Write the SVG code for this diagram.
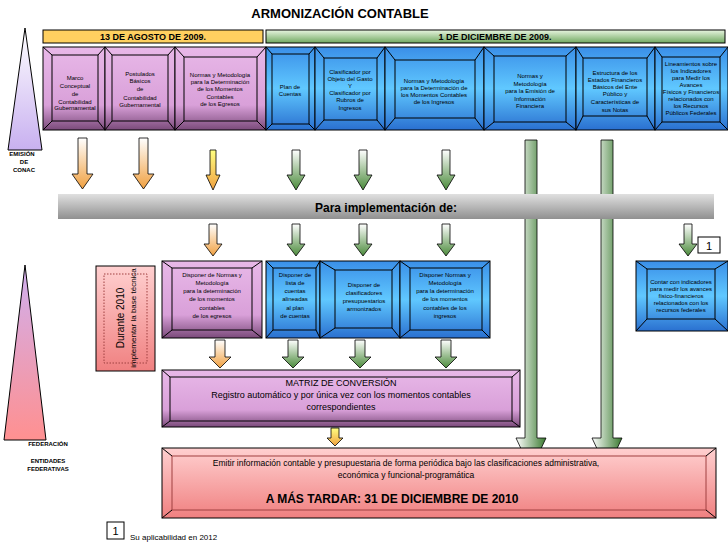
<svg xmlns="http://www.w3.org/2000/svg" width="728" height="546" viewBox="0 0 728 546">
<style>
text{font-family:"Liberation Sans",Arial,sans-serif;fill:#000}
.s{font-size:6px;text-anchor:middle}
.m{font-size:7px;text-anchor:middle}
.ln{stroke:#000;stroke-width:1;fill:none}
.ar{stroke:#000;stroke-width:0.8}
</style>
<defs>
<linearGradient id="pur" x1="0" y1="0" x2="0" y2="1"><stop offset="0" stop-color="#e8b8e8"/><stop offset="0.7" stop-color="#d9a0d9"/><stop offset="1" stop-color="#7a4a7a"/></linearGradient>
<linearGradient id="blu" x1="0" y1="0" x2="0" y2="1"><stop offset="0" stop-color="#3a8fe8"/><stop offset="0.5" stop-color="#60c8ff"/><stop offset="1" stop-color="#2a70d0"/></linearGradient>
<linearGradient id="red" x1="0" y1="0" x2="0" y2="1"><stop offset="0" stop-color="#ffd0d0"/><stop offset="1" stop-color="#f08080"/></linearGradient>
<linearGradient id="tri" x1="0" y1="0" x2="0" y2="1"><stop offset="0" stop-color="#ffffff"/><stop offset="1" stop-color="#c8b0f0"/></linearGradient>
<linearGradient id="tri2" x1="0" y1="0" x2="0" y2="1"><stop offset="0" stop-color="#d0b0f0"/><stop offset="1" stop-color="#ff9090"/></linearGradient>
<linearGradient id="grn" x1="0" y1="0" x2="0" y2="1"><stop offset="0" stop-color="#ffffff"/><stop offset="1" stop-color="#4a8a3a"/></linearGradient>
<linearGradient id="org" x1="0" y1="0" x2="0" y2="1"><stop offset="0" stop-color="#ffffff"/><stop offset="1" stop-color="#f0a040"/></linearGradient>
<linearGradient id="ylw" x1="0" y1="0" x2="0" y2="1"><stop offset="0" stop-color="#ffff80"/><stop offset="1" stop-color="#f0a040"/></linearGradient>
<linearGradient id="gbar" x1="0" y1="0" x2="0" y2="1"><stop offset="0" stop-color="#e8f5e0"/><stop offset="1" stop-color="#70a860"/></linearGradient>
<linearGradient id="gray" x1="0" y1="0" x2="0" y2="1"><stop offset="0" stop-color="#e0e0e0"/><stop offset="1" stop-color="#909090"/></linearGradient>
<linearGradient id="lg" x1="0" y1="0" x2="1" y2="0"><stop offset="0" stop-color="#ffffff"/><stop offset="1" stop-color="#3a7a30"/></linearGradient>
</defs>

<text x="340" y="18" font-size="13" font-weight="bold" text-anchor="middle">ARMONIZACIÓN CONTABLE</text>

<g id="triangles">
<polygon points="25,28 42,150 8,150" fill="url(#tri)" stroke="#000"/>
<text x="22" y="156" font-size="6" font-weight="bold" text-anchor="middle">EMISIÓN</text>
<text x="24" y="164" font-size="6" font-weight="bold" text-anchor="middle">DE</text>
<text x="24" y="172" font-size="6" font-weight="bold" text-anchor="middle">CONAC</text>
<polygon points="25,265 46,440 4,440" fill="url(#tri2)" stroke="#000"/>
<text x="48" y="446" font-size="6" font-weight="bold" text-anchor="middle">FEDERACIÓN</text>
<text x="48" y="463" font-size="6" font-weight="bold" text-anchor="middle">ENTIDADES</text>
<text x="48" y="471" font-size="6" font-weight="bold" text-anchor="middle">FEDERATIVAS</text>
</g>

<g id="dates">
<rect x="43" y="30" width="220" height="13" fill="#ffd060" stroke="#000"/>
<text x="153" y="40" font-size="9" font-weight="bold" text-anchor="middle">13 DE AGOSTO DE 2009.</text>
<rect x="266" y="30" width="459" height="13" fill="url(#gbar)" stroke="#000"/>
<text x="495" y="40" font-size="9" font-weight="bold" text-anchor="middle">1 DE DICIEMBRE  DE 2009.</text>
</g>

<g id="top-boxes">
<g id="t1"><rect x="43" y="47" width="62" height="83" fill="url(#pur)" stroke="#000"/><rect x="52" y="55" width="46" height="66" class="ln"/><path d="M43,47L52,55M105,47L98,55M43,130L52,121M105,130L98,121" class="ln"/>
<text class="s" x="75" y="80">Marco</text><text class="s" x="75" y="88">Conceptual</text><text class="s" x="75" y="96">de</text><text class="s" x="75" y="104">Contabilidad</text><text class="s" x="75" y="110">Gubernamental</text></g>
<g id="t2"><rect x="105" y="47" width="70" height="83" fill="url(#pur)" stroke="#000"/><rect x="112" y="55" width="56" height="66" class="ln"/><path d="M105,47L112,55M175,47L168,55M105,130L112,121M175,130L168,121" class="ln"/>
<text class="s" x="140" y="76">Postulados</text><text class="s" x="140" y="83">Básicos</text><text class="s" x="140" y="91">de</text><text class="s" x="140" y="100">Contabilidad</text><text class="s" x="140" y="107">Gubernamental</text></g>
<g id="t3"><rect x="175" y="47" width="91" height="83" fill="url(#pur)" stroke="#000"/><rect x="184" y="57" width="73" height="64" class="ln"/><path d="M175,47L184,57M266,47L257,57M175,130L184,121M266,130L257,121" class="ln"/>
<text class="s" x="220" y="77">Normas y Metodología</text><text class="s" x="220" y="84">para la Determinación</text><text class="s" x="220" y="91">de los Momentos</text><text class="s" x="220" y="99">Contables</text><text class="s" x="220" y="106">de los Egresos</text></g>
<g id="t4"><rect x="266" y="47" width="49" height="83" fill="url(#blu)" stroke="#000"/><rect x="272" y="54" width="37" height="70" class="ln"/><path d="M266,47L272,54M315,47L309,54M266,130L272,124M315,130L309,124" class="ln"/>
<text class="s" x="290" y="89">Plan de</text><text class="s" x="290" y="96">Cuentas</text></g>
<g id="t5"><rect x="315" y="47" width="70" height="83" fill="url(#blu)" stroke="#000"/><rect x="324" y="58" width="53" height="62" class="ln"/><path d="M315,47L324,58M385,47L377,58M315,130L324,120M385,130L377,120" class="ln"/>
<text class="s" x="350" y="74">Clasificador por</text><text class="s" x="350" y="81">Objeto del Gasto</text><text class="s" x="350" y="88">Y</text><text class="s" x="350" y="95">Clasificador por</text><text class="s" x="350" y="102">Rubros de</text><text class="s" x="350" y="110">Ingresos</text></g>
<g id="t6"><rect x="385" y="47" width="99" height="83" fill="url(#blu)" stroke="#000"/><rect x="395" y="60" width="80" height="58" class="ln"/><path d="M385,47L395,60M484,47L475,60M385,130L395,118M484,130L475,118" class="ln"/>
<text class="s" x="434" y="83">Normas y Metodología</text><text class="s" x="434" y="90">para la Determinación de</text><text class="s" x="434" y="97">los Momentos Contables</text><text class="s" x="434" y="104">de los Ingresos</text></g>
<g id="t7"><rect x="484" y="47" width="92" height="83" fill="url(#blu)" stroke="#000"/><rect x="494" y="56" width="72" height="66" class="ln"/><path d="M484,47L494,56M576,47L566,56M484,130L494,122M576,130L566,122" class="ln"/>
<text class="s" x="530" y="78">Normas  y</text><text class="s" x="530" y="86">Metodología</text><text class="s" x="530" y="93">para la Emisión de</text><text class="s" x="530" y="101">Información</text><text class="s" x="530" y="108">Financiera</text></g>
<g id="t8"><rect x="576" y="47" width="79" height="83" fill="url(#blu)" stroke="#000"/><rect x="583" y="58" width="64" height="58" class="ln"/><path d="M576,47L583,58M655,47L647,58M576,130L583,116M655,130L647,116" class="ln"/>
<text class="s" x="615" y="75">Estructura de  los</text><text class="s" x="615" y="82">Estados  Financieros</text><text class="s" x="615" y="89">Básicos del Ente</text><text class="s" x="615" y="96">Público y</text><text class="s" x="615" y="104">Características de</text><text class="s" x="615" y="112">sus Notas</text></g>
<g id="t9"><rect x="655" y="47" width="73" height="83" fill="url(#blu)" stroke="#000"/><rect x="662" y="57" width="58" height="65" class="ln"/><path d="M655,47L662,57M728,47L720,57M655,130L662,122M728,130L720,122" class="ln"/>
<g font-size="5.5"><text class="s" x="691" y="66">Lineamientos sobre</text><text class="s" x="691" y="73">los Indicadores</text><text class="s" x="691" y="80">para Medir los</text><text class="s" x="691" y="87">Avances</text><text class="s" x="691" y="94">Físicos y Financieros</text><text class="s" x="691" y="101">relacionados con</text><text class="s" x="691" y="108">los Recursos</text><text class="s" x="691" y="115">Públicos Federales</text></g></g>
</g>

<g id="connectors">
<path d="M78,138h9v36h6l-10.5,15l-10.5,-15h6z" fill="url(#org)" class="ar"/>
<path d="M139,138h9v36h6l-10.5,15l-10.5,-15h6z" fill="url(#org)" class="ar"/>
<path d="M210,150h6v25h4l-7,15l-7,-15h4z" fill="url(#ylw)" class="ar"/>
<path d="M292,150h8v25h5l-9,15l-9,-15h5z" fill="url(#grn)" class="ar"/>
<path d="M359,150h8v25h5l-9,15l-9,-15h5z" fill="url(#grn)" class="ar"/>
<path d="M442,150h8v25h5l-9,15l-9,-15h5z" fill="url(#grn)" class="ar"/>
<path d="M525,140h12v298h9l-15,32l-15,-32h9z" fill="url(#lg)" class="ar"/>
<path d="M601,140h12v298h9l-15,32l-15,-32h9z" fill="url(#lg)" class="ar"/>
<path d="M209,224h8v20h5l-9,12l-9,-12h5z" fill="url(#org)" class="ar"/>
<path d="M292,224h8v20h5l-9,12l-9,-12h5z" fill="url(#grn)" class="ar"/>
<path d="M359,224h8v20h5l-9,12l-9,-12h5z" fill="url(#grn)" class="ar"/>
<path d="M442,224h8v20h5l-9,12l-9,-12h5z" fill="url(#grn)" class="ar"/>
<path d="M684,224h8v20h5l-9,12l-9,-12h5z" fill="url(#grn)" class="ar"/>
<path d="M215,340h10v17h6l-11,11l-11,-11h6z" fill="url(#org)" class="ar"/>
<path d="M288,340h10v17h6l-11,11l-11,-11h6z" fill="url(#grn)" class="ar"/>
<path d="M355,340h10v17h6l-11,11l-11,-11h6z" fill="url(#grn)" class="ar"/>
<path d="M441,340h10v17h6l-11,11l-11,-11h6z" fill="url(#grn)" class="ar"/>
<path d="M331,428h8v10h4l-8,8l-8,-8h4z" fill="url(#ylw)" class="ar"/>
</g>

<g id="impl-bar">
<rect x="58" y="194" width="656" height="25" fill="url(#gray)"/>
<text x="386" y="212" font-size="12" font-weight="bold" text-anchor="middle">Para implementación de:</text>
</g>

<g id="note1"><rect x="698" y="237" width="22" height="16" fill="#fff" stroke="#000"/><text x="709" y="250" font-size="11" text-anchor="middle">1</text></g>

<g id="red-box">
<rect x="96" y="266" width="59" height="105" fill="url(#red)" stroke="#000"/>
<rect x="104" y="274" width="43" height="89" fill="none" stroke="#a04040" stroke-dasharray="1.5,1.5"/>
<text transform="translate(124,318) rotate(-90)" font-size="10" text-anchor="middle">Durante 2010</text>
<text transform="translate(136,318) rotate(-90)" font-size="8" text-anchor="middle">implementar la base técnica</text>
</g>

<g id="mid-boxes">
<g id="m1"><rect x="162" y="261" width="100" height="77" fill="url(#pur)" stroke="#000"/><rect x="172" y="268" width="80" height="62" class="ln"/><path d="M162,261L172,268M262,261L252,268M162,338L172,330M262,338L252,330" class="ln"/>
<text class="s" x="212" y="277">Disponer de Normas y</text><text class="s" x="212" y="285">Metodología</text><text class="s" x="212" y="293">para la determinación</text><text class="s" x="212" y="301">de los momentos</text><text class="s" x="212" y="310">contables</text><text class="s" x="212" y="318">de los egresos</text></g>
<g id="m2"><rect x="266" y="261" width="54" height="77" fill="url(#blu)" stroke="#000"/><rect x="273" y="268" width="43" height="62" class="ln"/><path d="M266,261L273,268M320,261L316,268M266,338L273,330M320,338L316,330" class="ln"/>
<text class="s" x="295" y="277">Disponer de</text><text class="s" x="295" y="285">lista de</text><text class="s" x="295" y="293">cuentas</text><text class="s" x="295" y="301">alineadas</text><text class="s" x="295" y="310">al plan</text><text class="s" x="295" y="318">de cuentas</text></g>
<g id="m3"><rect x="320" y="261" width="80" height="77" fill="url(#blu)" stroke="#000"/><rect x="335" y="270" width="57" height="58" class="ln"/><path d="M320,261L335,270M400,261L392,270M320,338L335,328M400,338L392,328" class="ln"/>
<text class="s" x="364" y="287">Disponer de</text><text class="s" x="364" y="295">clasificadores</text><text class="s" x="364" y="303">presupuestarios</text><text class="s" x="364" y="311">armonizados</text></g>
<g id="m4"><rect x="400" y="261" width="90" height="77" fill="url(#blu)" stroke="#000"/><rect x="410" y="268" width="72" height="62" class="ln"/><path d="M400,261L410,268M490,261L482,268M400,338L410,330M490,338L482,330" class="ln"/>
<text class="s" x="445" y="277">Disponer Normas y</text><text class="s" x="445" y="285">Metodología</text><text class="s" x="445" y="293">para la determinación</text><text class="s" x="445" y="301">de los momentos</text><text class="s" x="445" y="310">contables de los</text><text class="s" x="445" y="318">ingresos</text></g>
<g id="m5"><rect x="636" y="261" width="92" height="70" fill="url(#blu)" stroke="#000"/><rect x="647" y="269" width="68" height="50" class="ln"/><path d="M636,261L647,269M728,261L715,269M636,331L647,319M728,331L715,319" class="ln"/>
<g font-size="5.3"><text class="s" x="681" y="284">Contar con indicadores</text><text class="s" x="681" y="291">para medir los avances</text><text class="s" x="681" y="298">físico-financieros</text><text class="s" x="681" y="305">relacionados con los</text><text class="s" x="681" y="312">recursos federales</text></g></g>
</g>

<g id="matrix">
<rect x="162" y="370" width="358" height="57" fill="url(#pur)" stroke="#000"/>
<rect x="170" y="377" width="342" height="44" class="ln" stroke="#555"/>
<path d="M162,370L170,377M520,370L512,377M162,427L170,421M520,427L512,421" class="ln"/>
<text x="341" y="386" font-size="9" text-anchor="middle">MATRIZ DE CONVERSIÓN</text>
<text x="341" y="398" font-size="9" text-anchor="middle">Registro automático y por única vez con los momentos contables</text>
<text x="341" y="410" font-size="9" text-anchor="middle">correspondientes</text>
</g>

<g id="final">
<rect x="162" y="448" width="554" height="70" fill="url(#red)" stroke="#000"/>
<rect x="172" y="456" width="534" height="54" fill="none" stroke="#a04040"/>
<path d="M162,448L172,456M716,448L706,456M162,518L172,510M716,518L706,510" class="ln"/>
<text x="406" y="466" font-size="8.5" text-anchor="middle">Emitir información contable y presupuestaria de forma periódica bajo las clasificaciones administrativa,</text>
<text x="406" y="478" font-size="8.5" text-anchor="middle">económica y funcional-programática</text>
<text x="392" y="503" font-size="12" font-weight="bold" text-anchor="middle">A MÁS TARDAR:  31 DE DICIEMBRE DE 2010</text>
</g>

<g id="footnote">
<rect x="107" y="522" width="17" height="17" fill="#fff" stroke="#000"/>
<text x="115.5" y="535" font-size="11" text-anchor="middle">1</text>
<text x="130" y="540" font-size="8">Su aplicabilidad en 2012</text>
</g>
</svg>
